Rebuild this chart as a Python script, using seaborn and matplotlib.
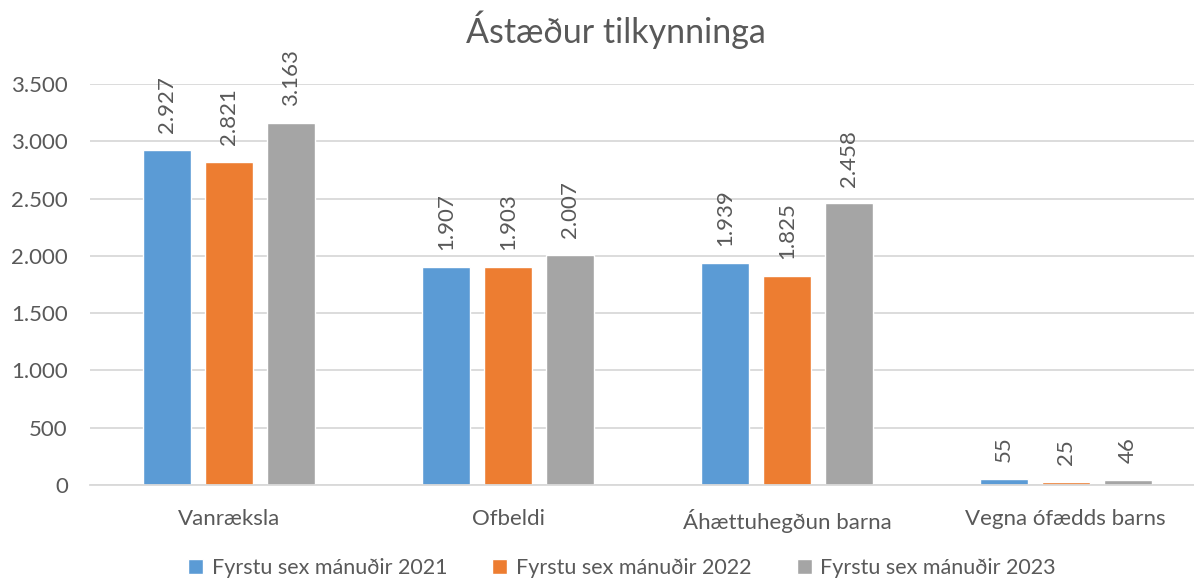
import matplotlib
matplotlib.use("Agg")
import matplotlib.pyplot as plt
import seaborn as sns
import pandas as pd
from matplotlib.ticker import FuncFormatter, MultipleLocator

categories = ["Vanræksla", "Ofbeldi", "Áhættuhegðun barna", "Vegna ófædds barns"]
series_names = ["Fyrstu sex mánuðir 2021", "Fyrstu sex mánuðir 2022", "Fyrstu sex mánuðir 2023"]
values_2021 = [2927, 1907, 1939, 55]
values_2022 = [2821, 1903, 1825, 25]
values_2023 = [3163, 2007, 2458, 46]
colors = ["#5B9BD5", "#ED7D31", "#A5A5A5"]

rows = []
for name, vals in zip(series_names, [values_2021, values_2022, values_2023]):
    for c, v in zip(categories, vals):
        rows.append({"cat": c, "series": name, "value": v})
df = pd.DataFrame(rows)

sns.set_theme(style="white")
plt.rcParams["font.family"] = ["Lato", "DejaVu Sans"]
txt = "#595959"

fig = plt.figure(figsize=(11.94, 5.81), dpi=100)
W, H = 1194, 581
ax = fig.add_axes([90 / W, (H - 485) / H, (1205 - 90) / W, (485 - 84) / H])

sns.barplot(data=df, x="cat", y="value", hue="series", palette=colors,
            width=0.667, gap=0.225, saturation=1, ax=ax, legend=True)

ax.set_xlim(-0.5, 3.5)
ax.set_ylim(0, 3500)
ax.yaxis.set_major_locator(MultipleLocator(500))
ax.yaxis.set_major_formatter(FuncFormatter(lambda v, p: f"{int(v):,}".replace(",", ".")))
ax.grid(axis="y", color="#D9D9D9", linewidth=1.3)
ax.set_axisbelow(True)
for s in ["top", "right", "left"]:
    ax.spines[s].set_visible(False)
ax.spines["bottom"].set_color("#D9D9D9")
ax.spines["bottom"].set_linewidth(1.3)
ax.tick_params(axis="both", length=0, labelsize=16, colors=txt)
ax.tick_params(axis="x", pad=17)
ax.tick_params(axis="y", pad=16)
ax.set_xlabel("")
ax.set_ylabel("")

for cont in ax.containers:
    labels = [f"{int(b.get_height()):,}".replace(",", ".") for b in cont]
    ax.bar_label(cont, labels=labels, rotation=90, padding=12, fontsize=16, color=txt)

fig.text(616 / W, 1 - 30 / H, "Ástæður tilkynninga", ha="center", va="center",
         fontsize=24.5, color=txt)

handles, labels = ax.get_legend_handles_labels()
ax.legend_.remove()
fig.legend(handles, labels, loc="center", bbox_to_anchor=(0.521, 1 - 568 / H), ncol=3,
           frameon=False, fontsize=15.5, labelcolor=txt, handlelength=0.7,
           handleheight=0.7, handletextpad=0.4, columnspacing=2.1)

fig.savefig("out.png", dpi=100)
